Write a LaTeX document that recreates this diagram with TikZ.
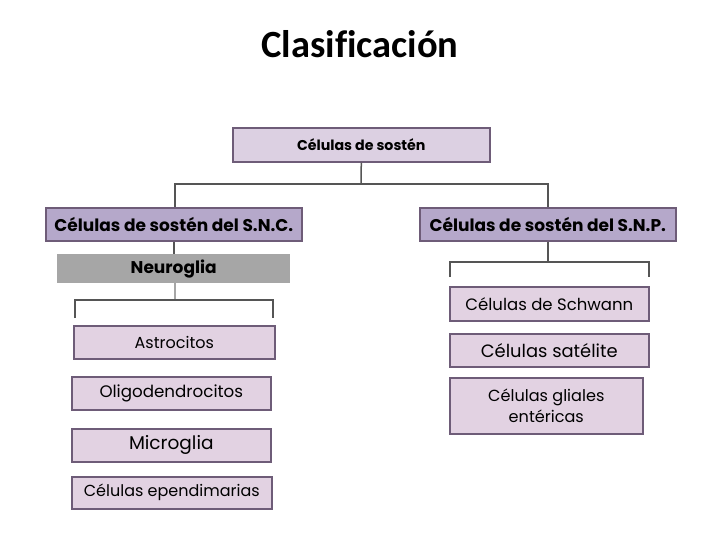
\documentclass[tikz,border=0pt]{standalone}
\usepackage{fontspec}
\setmainfont{Poppins}
\newfontfamily\titlefont[Ligatures=NoCommon]{Carlito}
\begin{document}
\begin{tikzpicture}[x=1pt,y=-1pt,
  box/.style={draw=boxborder,line width=1.6pt,inner sep=0pt,anchor=north west,align=center,text=black},
  toplvl/.style={box,fill=lvA},
  midlvl/.style={box,fill=lvB,font=\fontsize{17}{19}\selectfont\bfseries},
  leaf/.style={box,fill=lvC,font=\fontsize{16}{18}\selectfont},
  conn/.style={draw=connc,line width=1.5pt}]
\definecolor{boxborder}{HTML}{6E5C78}
\definecolor{lvA}{HTML}{DCD0E2}
\definecolor{lvB}{HTML}{B5A8CA}
\definecolor{lvC}{HTML}{E2D2E2}
\definecolor{connc}{HTML}{555555}
\definecolor{greyb}{HTML}{A6A6A6}
\useasboundingbox (0,0) rectangle (720,540);
\node[font=\titlefont\bfseries\fontsize{38.5}{44}\selectfont] (title) at (360,44) {Clasificación};
\node[toplvl,minimum width=257pt,minimum height=34pt,font=\fontsize{14.2}{16}\selectfont\bfseries] (top) at (232,127) {Células de sostén};
\node[midlvl,minimum width=256pt,minimum height=33pt] (snc) at (45,207) {Células de sostén del S.N.C.};
\node[midlvl,minimum width=256pt,minimum height=33pt] (snp) at (419,207) {Células de sostén del S.N.P.};
\node[fill=greyb,inner sep=0pt,anchor=north west,minimum width=233pt,minimum height=29pt,font=\fontsize{17}{19}\selectfont\bfseries] (neuro) at (57,254) {Neuroglia};
\node[leaf,minimum width=201pt,minimum height=33pt] (astro) at (73,325) {Astrocitos};
\node[leaf,minimum width=199pt,minimum height=33pt,font=\fontsize{16.7}{18}\selectfont] (oligo) at (71,376) {Oligodendrocitos};
\node[leaf,minimum width=199pt,minimum height=33pt,font=\fontsize{18.5}{20}\selectfont] (micro) at (71,428) {Microglia};
\node[leaf,minimum width=200pt,minimum height=32pt] (epen) at (71,476) {Células ependimarias};
\node[leaf,minimum width=199pt,minimum height=34pt,font=\fontsize{16.5}{18}\selectfont] (schw) at (449,286) {Células de Schwann};
\node[leaf,minimum width=199pt,minimum height=33pt,font=\fontsize{17.9}{20}\selectfont] (sat) at (449,333) {Células satélite};
\node[leaf,minimum width=193pt,minimum height=56pt,font=\fontsize{16.1}{21}\selectfont] (ent) at (449,377) {Células gliales\\entéricas};
% connectors
\coordinate (hb) at (361,184);
\draw[conn] (top.south) -- (hb);
\draw[conn] (snc.north -| 175,0) |- (hb) -| (snp.north -| 548,0);
\draw[conn] (snc.south -| 174,0) -- (neuro.north -| 174,0);
\coordinate (lb) at (175,300);
\draw[draw=greyb,line width=1.5pt] (neuro.south -| 175,0) -- (lb);
\draw[conn] (75,318) |- (lb) -| (273,318);
\coordinate (rb) at (548,262);
\draw[conn] (snp.south -| 548,0) -- (rb);
\draw[conn] (450,277) |- (rb) -| (649,277);
\end{tikzpicture}
\end{document}
